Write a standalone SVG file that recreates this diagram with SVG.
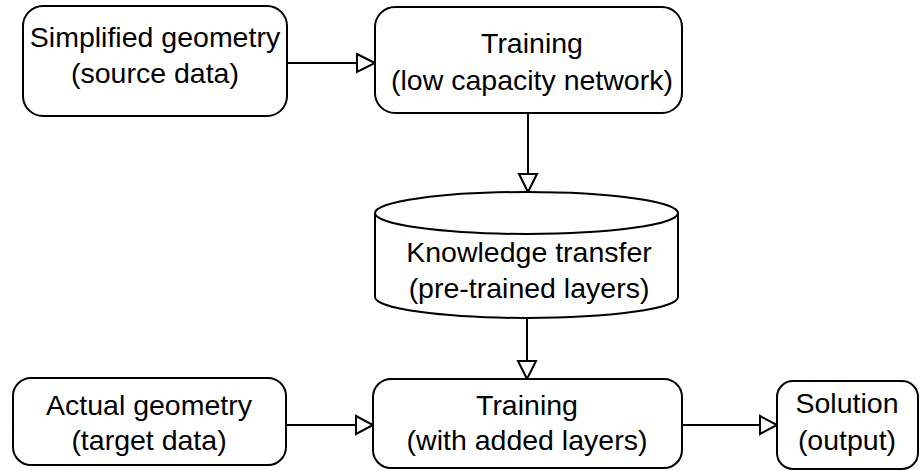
<svg xmlns="http://www.w3.org/2000/svg" width="920" height="471" viewBox="0 0 920 471">
<style>
.box{fill:#fff;stroke:#000;stroke-width:2}
.t{font-family:"Liberation Sans",Arial,sans-serif;font-size:28.5px;fill:#000;text-anchor:middle}
.ln{stroke:#000;stroke-width:2;fill:none}
.ah{fill:#fff;stroke:#000;stroke-width:2;stroke-linejoin:miter}
</style>
<rect width="920" height="471" fill="#fff"/>
<g id="connectors">
<line class="ln" x1="287" y1="63" x2="357" y2="63"/>
<polygon class="ah" points="357,54 375,63 357,72"/>
<line class="ln" x1="528" y1="113" x2="528" y2="174"/>
<polygon class="ah" points="519,174 537,174 528,192"/>
<line class="ln" x1="527" y1="317" x2="527" y2="361"/>
<polygon class="ah" points="518,361 536,361 527,379"/>
<line class="ln" x1="286" y1="425" x2="356" y2="425"/>
<polygon class="ah" points="356,416 373,425 356,434"/>
<line class="ln" x1="682" y1="425" x2="760" y2="425"/>
<polygon class="ah" points="760,416 777,425 760,434"/>
</g>
<g id="simplified">
<rect class="box" x="23" y="6" width="264" height="110" rx="20"/>
<text class="t" x="155" y="47">Simplified geometry</text>
<text class="t" x="155" y="83">(source data)</text>
</g>
<g id="training1">
<rect class="box" x="375" y="7" width="307" height="106" rx="20"/>
<text class="t" x="532" y="53">Training</text>
<text class="t" x="532" y="90">(low capacity network)</text>
</g>
<g id="knowledge">
<path class="box" d="M375,213 A151.5,21 0 0 1 678,213 L678,297 A151.5,21 0 0 1 375,297 Z"/>
<path class="ln" d="M375,213 A151.5,21 0 0 0 678,213"/>
<text class="t" x="529" y="262">Knowledge transfer</text>
<text class="t" x="529" y="298">(pre-trained layers)</text>
</g>
<g id="actual">
<rect class="box" x="13" y="378" width="273" height="87" rx="18"/>
<text class="t" x="149" y="415">Actual geometry</text>
<text class="t" x="149" y="450">(target data)</text>
</g>
<g id="training2">
<rect class="box" x="373" y="379" width="309" height="89" rx="18"/>
<text class="t" x="527" y="415">Training</text>
<text class="t" x="527" y="450">(with added layers)</text>
</g>
<g id="solution">
<rect class="box" x="777" y="381" width="141" height="88" rx="16"/>
<text class="t" x="847" y="413">Solution</text>
<text class="t" x="847" y="450">(output)</text>
</g>
</svg>
